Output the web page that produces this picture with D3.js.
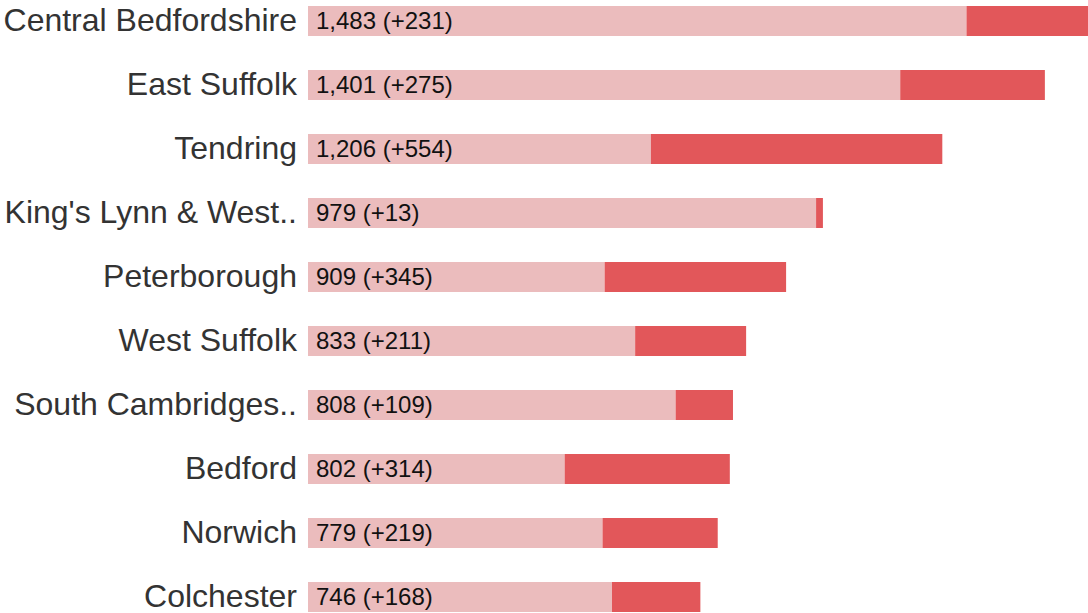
<!DOCTYPE html>
<html>
<head>
<meta charset="utf-8">
<script src="https://cdn.jsdelivr.net/npm/d3@7"></script>
<style>
  body { margin: 0; background: #fff; }
  svg { display: block; }
</style>
</head>
<body>
<svg id="chart" width="1088" height="613"></svg>
<script>
  // chart data
  var areas = ["Central Bedfordshire", "East Suffolk", "Tendring", "King's Lynn & West..",
               "Peterborough", "West Suffolk", "South Cambridges..", "Bedford", "Norwich", "Colchester"];
  var totals = [1483, 1401, 1206, 979, 909, 833, 808, 802, 779, 746];
  var increases = [231, 275, 554, 13, 345, 211, 109, 314, 219, 168];

  var rows = areas.map(function(a, i) {
    return { name: a, total: totals[i], inc: increases[i], base: totals[i] - increases[i] };
  });

  var svg = d3.select('#chart');
  var left = 308, right = 1088;

  var x = d3.scaleLinear().domain([0, d3.max(totals)]).range([left, right]);
  // 30px bars on a 64px step
  var y = d3.scaleBand().domain(areas).range([6, 612]).paddingInner(34 / 64).paddingOuter(0);

  var g = svg.selectAll('g.row').data(rows).enter().append('g').attr('class', 'row');

  g.append('rect')
    .attr('x', x(0))
    .attr('y', function(d) { return y(d.name); })
    .attr('width', function(d) { return x(d.base) - x(0); })
    .attr('height', y.bandwidth())
    .attr('fill', '#ebbcbd');

  g.append('rect')
    .attr('x', function(d) { return x(d.base); })
    .attr('y', function(d) { return y(d.name); })
    .attr('width', function(d) { return x(d.total) - x(d.base); })
    .attr('height', y.bandwidth())
    .attr('fill', '#e2575a');

  g.append('text')
    .attr('x', left - 11)
    .attr('y', function(d) { return y(d.name) + y.bandwidth() / 2 - 1.5; })
    .attr('dy', '0.35em')
    .attr('text-anchor', 'end')
    .attr('font-family', 'Liberation Sans, Arial, sans-serif')
    .attr('font-size', 32)
    .attr('fill', '#333')
    .text(function(d) { return d.name; });

  g.append('text')
    .attr('x', left + 8)
    .attr('y', function(d) { return y(d.name) + y.bandwidth() / 2; })
    .attr('dy', '0.35em')
    .attr('font-family', 'Liberation Sans, Arial, sans-serif')
    .attr('font-size', 24)
    .attr('fill', '#111')
    .text(function(d) { return d3.format(',')(d.total) + ' (+' + d.inc + ')'; });
</script>
</body>
</html>
